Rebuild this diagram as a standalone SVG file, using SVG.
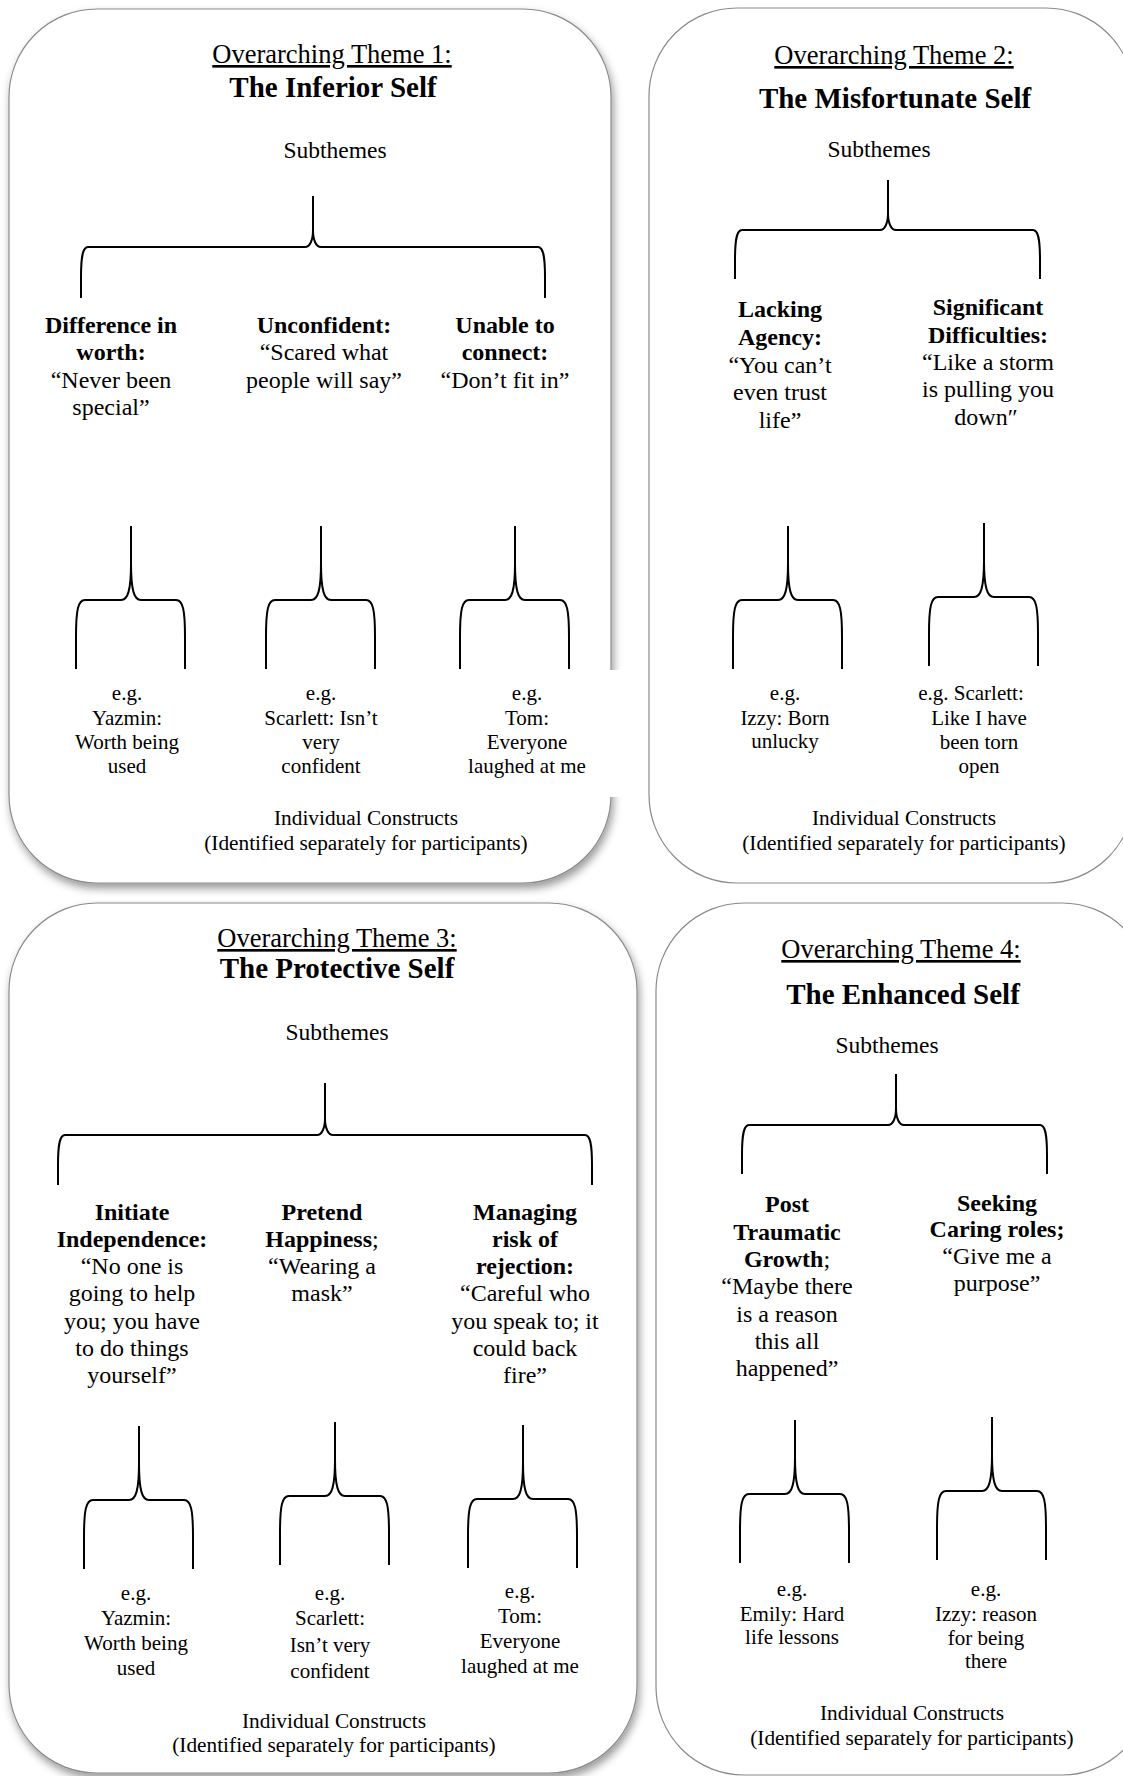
<svg xmlns="http://www.w3.org/2000/svg" width="1123" height="1776" viewBox="0 0 1123 1776">
<defs>
<style>
text{font-family:"Liberation Serif","Times New Roman",serif;text-anchor:middle;fill:#000}
.oh{font-size:26.5px;text-decoration:underline;text-decoration-skip-ink:none}
.tt{font-size:29px;font-weight:bold}
.sub{font-size:23.5px}
.lb{font-size:24px}
.b{font-weight:bold}
.eg{font-size:21px}
.ic{font-size:21.3px}
.panel{fill:#fff;stroke:#8a8a8a;stroke-width:1.2}
.brace{fill:none;stroke:#000;stroke-width:2;stroke-linejoin:round}
</style>
<filter id="sh" x="-5%" y="-5%" width="115%" height="115%">
<feDropShadow dx="2" dy="5" stdDeviation="4" flood-color="#000" flood-opacity="0.4"/>
</filter>
<path id="sb" d="M-55,143 L-55,111 C-55,84 -53,74 -46,74 L-10,74 C-3,74 0,64 0,37 L0,0 M0,37 C0,64 3,74 10,74 L45,74 C52,74 54,84 54,111 L54,143"/>
</defs>
<rect x="0" y="0" width="1123" height="1776" fill="#fff"/>

<g id="theme1">
<rect class="panel" x="9" y="9" width="602" height="874" rx="88" ry="88" filter="url(#sh)"/>
<rect x="604" y="670" width="20" height="127" fill="#fff"/>
<text class="oh" x="332" y="63">Overarching Theme 1:</text>
<text class="tt" x="333" y="97">The Inferior Self</text>
<text class="sub" x="335" y="158">Subthemes</text>
<text class="ic" x="366" y="825">Individual Constructs</text>
<text class="ic" x="366" y="850">(Identified separately for participants)</text>
</g>
<g id="t1-sub1">
<text class="lb b" x="111" y="333">Difference in</text>
<text class="lb b" x="111" y="360">worth:</text>
<text class="lb" x="111" y="388">“Never been</text>
<text class="lb" x="111" y="415">special”</text>
</g>
<g id="t1-sub2">
<text class="lb b" x="324" y="333">Unconfident:</text>
<text class="lb" x="324" y="360">“Scared what</text>
<text class="lb" x="324" y="388">people will say”</text>
</g>
<g id="t1-sub3">
<text class="lb b" x="505" y="333">Unable to</text>
<text class="lb b" x="505" y="360">connect:</text>
<text class="lb" x="505" y="388">“Don’t fit in”</text>
</g>
<g id="t1-ind1">
<text class="eg" x="127" y="700">e.g.</text>
<text class="eg" x="127" y="725">Yazmin:</text>
<text class="eg" x="127" y="749">Worth being</text>
<text class="eg" x="127" y="773">used</text>
</g>
<g id="t1-ind2">
<text class="eg" x="321" y="700">e.g.</text>
<text class="eg" x="321" y="725">Scarlett: Isn’t</text>
<text class="eg" x="321" y="749">very</text>
<text class="eg" x="321" y="773">confident</text>
</g>
<g id="t1-ind3">
<text class="eg" x="527" y="700">e.g.</text>
<text class="eg" x="527" y="725">Tom:</text>
<text class="eg" x="527" y="749">Everyone</text>
<text class="eg" x="527" y="773">laughed at me</text>
</g>

<g id="theme2">
<rect class="panel" x="649" y="8" width="485" height="875" rx="88" ry="88"/>
<text class="oh" x="894" y="64">Overarching Theme 2:</text>
<text class="tt" x="895" y="108">The Misfortunate Self</text>
<text class="sub" x="879" y="157">Subthemes</text>
<text class="ic" x="904" y="825">Individual Constructs</text>
<text class="ic" x="904" y="850">(Identified separately for participants)</text>
</g>
<g id="t2-sub1">
<text class="lb b" x="780" y="317">Lacking</text>
<text class="lb b" x="780" y="345">Agency:</text>
<text class="lb" x="780" y="373">“You can’t</text>
<text class="lb" x="780" y="400">even trust</text>
<text class="lb" x="780" y="428">life”</text>
</g>
<g id="t2-sub2">
<text class="lb b" x="988" y="315">Significant</text>
<text class="lb b" x="988" y="343">Difficulties:</text>
<text class="lb" x="988" y="370">“Like a storm</text>
<text class="lb" x="988" y="397">is pulling you</text>
<text class="lb" x="986" y="425">down″</text>
</g>
<g id="t2-ind1">
<text class="eg" x="785" y="700">e.g.</text>
<text class="eg" x="785" y="725">Izzy: Born</text>
<text class="eg" x="785" y="748">unlucky</text>
</g>
<g id="t2-ind2">
<text class="eg" x="971" y="700">e.g. Scarlett:</text>
<text class="eg" x="979" y="725">Like I have</text>
<text class="eg" x="979" y="749">been torn</text>
<text class="eg" x="979" y="773">open</text>
</g>

<g id="theme3">
<rect class="panel" x="9" y="903" width="628" height="870" rx="88" ry="88" filter="url(#sh)"/>
<text class="oh" x="337" y="947">Overarching Theme 3:</text>
<text class="tt" x="337" y="978">The Protective Self</text>
<text class="sub" x="337" y="1040">Subthemes</text>
<text class="ic" x="334" y="1728">Individual Constructs</text>
<text class="ic" x="334" y="1752">(Identified separately for participants)</text>
</g>
<g id="t3-sub1">
<text class="lb b" x="132" y="1220">Initiate</text>
<text class="lb b" x="132" y="1247">Independence:</text>
<text class="lb" x="132" y="1274">“No one is</text>
<text class="lb" x="132" y="1301">going to help</text>
<text class="lb" x="132" y="1329">you; you have</text>
<text class="lb" x="132" y="1356">to do things</text>
<text class="lb" x="132" y="1383">yourself”</text>
</g>
<g id="t3-sub2">
<text class="lb b" x="322" y="1220">Pretend</text>
<text class="lb" x="322" y="1247"><tspan class="b">Happiness</tspan>;</text>
<text class="lb" x="322" y="1274">“Wearing a</text>
<text class="lb" x="322" y="1301">mask”</text>
</g>
<g id="t3-sub3">
<text class="lb b" x="525" y="1220">Managing</text>
<text class="lb b" x="525" y="1247">risk of</text>
<text class="lb b" x="525" y="1274">rejection:</text>
<text class="lb" x="525" y="1301">“Careful who</text>
<text class="lb" x="525" y="1329">you speak to; it</text>
<text class="lb" x="525" y="1356">could back</text>
<text class="lb" x="525" y="1383">fire”</text>
</g>
<g id="t3-ind1">
<text class="eg" x="136" y="1600">e.g.</text>
<text class="eg" x="136" y="1625">Yazmin:</text>
<text class="eg" x="136" y="1650">Worth being</text>
<text class="eg" x="136" y="1675">used</text>
</g>
<g id="t3-ind2">
<text class="eg" x="330" y="1600">e.g.</text>
<text class="eg" x="330" y="1625">Scarlett:</text>
<text class="eg" x="330" y="1652">Isn’t very</text>
<text class="eg" x="330" y="1678">confident</text>
</g>
<g id="t3-ind3">
<text class="eg" x="520" y="1598">e.g.</text>
<text class="eg" x="520" y="1623">Tom:</text>
<text class="eg" x="520" y="1648">Everyone</text>
<text class="eg" x="520" y="1673">laughed at me</text>
</g>

<g id="theme4">
<rect class="panel" x="656" y="903" width="494" height="872" rx="88" ry="88"/>
<text class="oh" x="901" y="958">Overarching Theme 4:</text>
<text class="tt" x="903" y="1004">The Enhanced Self</text>
<text class="sub" x="887" y="1053">Subthemes</text>
<text class="ic" x="912" y="1720">Individual Constructs</text>
<text class="ic" x="912" y="1745">(Identified separately for participants)</text>
</g>
<g id="t4-sub1">
<text class="lb b" x="787" y="1212">Post</text>
<text class="lb b" x="787" y="1240">Traumatic</text>
<text class="lb" x="787" y="1267"><tspan class="b">Growth</tspan>;</text>
<text class="lb" x="787" y="1294">“Maybe there</text>
<text class="lb" x="787" y="1322">is a reason</text>
<text class="lb" x="787" y="1349">this all</text>
<text class="lb" x="787" y="1376">happened”</text>
</g>
<g id="t4-sub2">
<text class="lb b" x="997" y="1211">Seeking</text>
<text class="lb b" x="997" y="1237">Caring roles;</text>
<text class="lb" x="997" y="1264">“Give me a</text>
<text class="lb" x="997" y="1291">purpose”</text>
</g>
<g id="t4-ind1">
<text class="eg" x="792" y="1596">e.g.</text>
<text class="eg" x="792" y="1621">Emily: Hard</text>
<text class="eg" x="792" y="1644">life lessons</text>
</g>
<g id="t4-ind2">
<text class="eg" x="986" y="1596">e.g.</text>
<text class="eg" x="986" y="1621">Izzy: reason</text>
<text class="eg" x="986" y="1645">for being</text>
<text class="eg" x="986" y="1668">there</text>
</g>

<g id="connectors" class="brace">
<path d="M81,298 L81,277 C81,255 83,247 88,247 L305,247 C310,247 313,240 313,230 L313,196 M313,230 C313,240 316,247 321,247 L538,247 C543,247 545,255 545,277 L545,298"/>
<path d="M735,279 L735,260 C735,238 737,230 742,230 L880,230 C885,230 888,223 888,213 L888,180 M888,213 C888,223 891,230 896,230 L1033,230 C1038,230 1040,238 1040,260 L1040,279"/>
<path d="M58,1185 L58,1165 C58,1143 60,1135 65,1135 L317,1135 C322,1135 325,1128 325,1118 L325,1083 M325,1118 C325,1128 328,1135 333,1135 L585,1135 C590,1135 592,1143 592,1165 L592,1185"/>
<path d="M742,1174 L742,1155 C742,1133 744,1125 749,1125 L888,1125 C893,1125 896,1118 896,1108 L896,1074 M896,1108 C896,1118 899,1125 904,1125 L1040,1125 C1045,1125 1047,1133 1047,1155 L1047,1174"/>
<use href="#sb" x="131" y="526"/>
<use href="#sb" x="321" y="526"/>
<use href="#sb" x="515" y="526"/>
<use href="#sb" x="788" y="526"/>
<use href="#sb" x="984" y="523"/>
<use href="#sb" x="139" y="1426"/>
<use href="#sb" x="335" y="1422"/>
<use href="#sb" x="523" y="1425"/>
<use href="#sb" x="795" y="1420"/>
<use href="#sb" x="992" y="1417"/>
</g>
</svg>
